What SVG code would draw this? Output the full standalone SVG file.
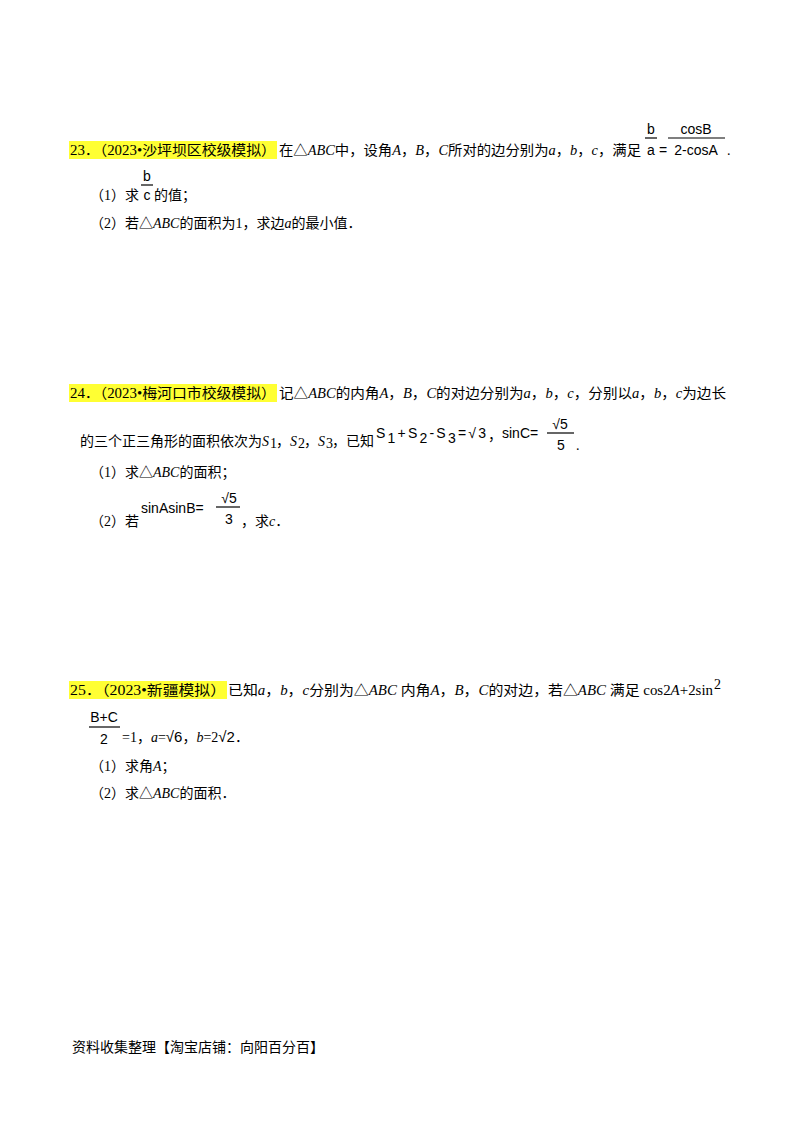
<svg xmlns="http://www.w3.org/2000/svg" width="800" height="1132" viewBox="0 0 800 1132">
<style>
.t{font-family:"Liberation Serif","Noto Sans CJK SC",serif;font-size:14px;fill:#000}
.m{font-family:"Liberation Sans","DejaVu Sans",sans-serif;font-size:14px;fill:#000}
.hl{fill:#ffff33}
.ln{stroke:#000;stroke-width:1.2}
</style>
<rect width="800" height="1132" fill="#fff"/>
<g id="q23">
<rect class="hl" x="69" y="141" width="208" height="18"/>
<text class="t" x="70" y="155" textLength="206" lengthAdjust="spacingAndGlyphs">23．（2023•沙坪坝区校级模拟）</text>
<text class="t" x="279" y="155" textLength="362" lengthAdjust="spacingAndGlyphs">在△<tspan font-style="italic">ABC</tspan>中，设角<tspan font-style="italic">A</tspan>，<tspan font-style="italic">B</tspan>，<tspan font-style="italic">C</tspan>所对的边分别为<tspan font-style="italic">a</tspan>，<tspan font-style="italic">b</tspan>，<tspan font-style="italic">c</tspan>，满足</text>
<text class="m" x="651" y="134" text-anchor="middle">b</text>
<line class="ln" x1="645" y1="138" x2="657" y2="138"/>
<text class="m" x="651" y="155" text-anchor="middle">a</text>
<text class="m" x="659" y="155" font-size="13">=</text>
<text class="m" x="696" y="134" text-anchor="middle">cosB</text>
<line class="ln" x1="668" y1="138" x2="725" y2="138"/>
<text class="m" x="696" y="155" text-anchor="middle">2-cosA</text>
<text class="t" x="727" y="155">.</text>
<text class="t" x="90" y="200">（1）求</text>
<text class="m" x="147" y="181" text-anchor="middle">b</text>
<line class="ln" x1="141" y1="185" x2="153" y2="185"/>
<text class="m" x="147" y="200" text-anchor="middle">c</text>
<text class="t" x="154" y="200">的值；</text>
<text class="t" x="90" y="228">（2）若△<tspan font-style="italic">ABC</tspan>的面积为1，求边<tspan font-style="italic">a</tspan>的最小值．</text>
</g>
<g id="q24">
<rect class="hl" x="69" y="384" width="208" height="18"/>
<text class="t" x="70" y="398" textLength="206" lengthAdjust="spacingAndGlyphs">24．（2023•梅河口市校级模拟）</text>
<text class="t" x="279" y="398" textLength="447" lengthAdjust="spacingAndGlyphs">记△<tspan font-style="italic">ABC</tspan>的内角<tspan font-style="italic">A</tspan>，<tspan font-style="italic">B</tspan>，<tspan font-style="italic">C</tspan>的对边分别为<tspan font-style="italic">a</tspan>，<tspan font-style="italic">b</tspan>，<tspan font-style="italic">c</tspan>，分别以<tspan font-style="italic">a</tspan>，<tspan font-style="italic">b</tspan>，<tspan font-style="italic">c</tspan>为边长</text>
<text class="t" x="80" y="446">的三个正三角形的面积依次为</text>
<text class="t" x="262" y="446" font-style="italic">S</text><text class="t" x="270" y="448" font-size="8">1</text>
<text class="t" x="276" y="446">，</text>
<text class="t" x="290" y="446" font-style="italic">S</text><text class="t" x="298" y="448" font-size="8">2</text>
<text class="t" x="304" y="446">，</text>
<text class="t" x="318" y="446" font-style="italic">S</text><text class="t" x="326" y="448" font-size="8">3</text>
<text class="t" x="332" y="446">，已知</text>
<text class="m" x="376" y="438" font-size="15" textLength="110">S<tspan dy="5">1</tspan><tspan dy="-5">+S</tspan><tspan dy="5">2</tspan><tspan dy="-5">-S</tspan><tspan dy="5">3</tspan><tspan dy="-5">=√3</tspan></text>
<text class="t" x="488" y="440">，</text>
<text class="m" x="502" y="438" font-size="14">sinC=</text>
<text class="m" x="560" y="429" text-anchor="middle" font-size="15">√5</text>
<line class="ln" x1="547" y1="433" x2="574" y2="433"/>
<text class="m" x="561" y="450" text-anchor="middle" font-size="15">5</text>
<text class="t" x="576" y="450">.</text>
<text class="t" x="90" y="477">（1）求△<tspan font-style="italic">ABC</tspan>的面积；</text>
<text class="t" x="90" y="526">（2）若</text>
<text class="m" x="141" y="513" font-size="15">sinAsinB=</text>
<text class="m" x="229" y="503" text-anchor="middle" font-size="15">√5</text>
<line class="ln" x1="216" y1="507" x2="240" y2="507"/>
<text class="m" x="229" y="524" text-anchor="middle" font-size="15">3</text>
<text class="t" x="241" y="526">，求<tspan font-style="italic">c</tspan>．</text>
</g>
<g id="q25">
<rect class="hl" x="69" y="681" width="158" height="18"/>
<text class="t" x="70" y="695" textLength="156" lengthAdjust="spacingAndGlyphs">25．（2023•新疆模拟）</text>
<text class="t" x="228" y="695" textLength="485" lengthAdjust="spacingAndGlyphs">已知<tspan font-style="italic">a</tspan>，<tspan font-style="italic">b</tspan>，<tspan font-style="italic">c</tspan>分别为△<tspan font-style="italic">ABC</tspan> 内角<tspan font-style="italic">A</tspan>，<tspan font-style="italic">B</tspan>，<tspan font-style="italic">C</tspan>的对边，若△<tspan font-style="italic">ABC</tspan> 满足 cos2<tspan font-style="italic">A</tspan>+2sin</text>
<text class="t" x="714" y="689" font-size="9">2</text>
<text class="m" x="104" y="722" text-anchor="middle" font-size="13">B+C</text>
<line class="ln" x1="89" y1="727" x2="120" y2="727"/>
<text class="m" x="104" y="744" text-anchor="middle" font-size="15">2</text>
<text class="t" x="122" y="742">=1，<tspan font-style="italic">a</tspan>=<tspan font-family="Liberation Sans" font-size="15">√6</tspan>，<tspan font-style="italic">b</tspan>=2<tspan font-family="Liberation Sans" font-size="15">√2</tspan>．</text>
<text class="t" x="90" y="771">（1）求角<tspan font-style="italic">A</tspan>；</text>
<text class="t" x="90" y="798">（2）求△<tspan font-style="italic">ABC</tspan>的面积．</text>
</g>
<text class="t" x="72" y="1052" font-size="12">资料收集整理【淘宝店铺：向阳百分百】</text>
</svg>
